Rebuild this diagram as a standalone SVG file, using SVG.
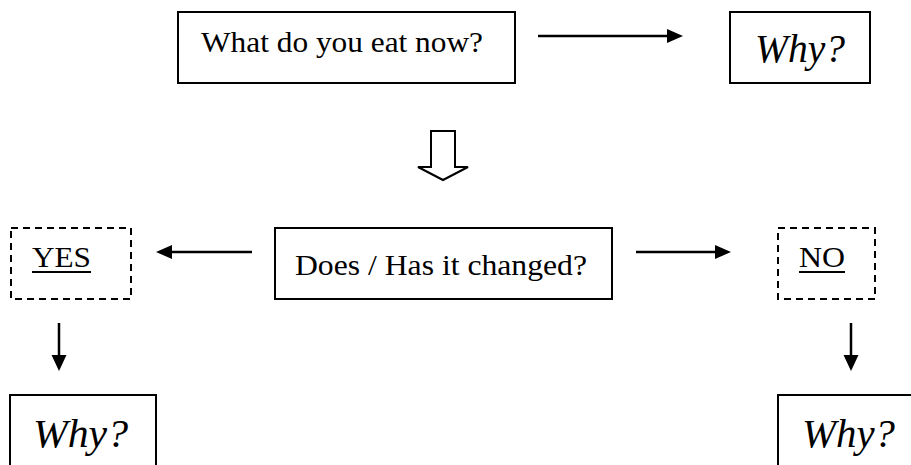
<svg xmlns="http://www.w3.org/2000/svg" width="911" height="465" viewBox="0 0 911 465">
  <style>
    .box { fill: #fff; stroke: #000; stroke-width: 2; }
    .dash { fill: #fff; stroke: #000; stroke-width: 2; stroke-dasharray: 7 5; }
    .txt { font-family: 'Liberation Serif', 'Times New Roman', serif; font-size: 30px; fill: #000; }
    .why { font-family: 'Liberation Serif', 'Times New Roman', serif; font-size: 41px; font-style: italic; fill: #000; }
    .line { stroke: #000; stroke-width: 2.5; fill: none; }
    .uline { stroke: #000; stroke-width: 2; fill: none; }
    .head { fill: #000; stroke: none; }
  </style>
  <rect width="911" height="465" fill="#fff"/>

  <g id="connectors">
    <!-- top: question to Why? -->
    <line class="line" x1="538" y1="36" x2="670" y2="36"/>
    <polygon class="head" points="683,36 667,29 667,43"/>
    <!-- hollow block arrow downwards -->
    <polygon points="431,131 455,131 455,167 468,167 443,180 418,167 431,167" fill="#fff" stroke="#000" stroke-width="2" stroke-linejoin="miter"/>
    <!-- middle: left to YES -->
    <line class="line" x1="252" y1="252" x2="168" y2="252"/>
    <polygon class="head" points="156,252 172,245 172,259"/>
    <!-- middle: right to NO -->
    <line class="line" x1="636" y1="252" x2="720" y2="252"/>
    <polygon class="head" points="731,252 715,245 715,259"/>
    <!-- down from YES -->
    <line class="line" x1="59" y1="323" x2="59" y2="358"/>
    <polygon class="head" points="59,371 51.5,355 66.5,355"/>
    <!-- down from NO -->
    <line class="line" x1="851" y1="323" x2="851" y2="358"/>
    <polygon class="head" points="851,371 843.5,355 858.5,355"/>
  </g>

  <g id="q-eat">
    <rect class="box" x="178" y="12" width="337" height="71"/>
    <text class="txt" x="201" y="52" textLength="282" lengthAdjust="spacingAndGlyphs">What do you eat now?</text>
  </g>

  <g id="why-top">
    <rect class="box" x="730" y="12" width="140" height="71"/>
    <text class="why" x="755" y="62" textLength="90" lengthAdjust="spacingAndGlyphs">Why?</text>
  </g>

  <g id="q-changed">
    <rect class="box" x="275" y="228" width="337" height="71"/>
    <text class="txt" x="295" y="275" textLength="292" lengthAdjust="spacingAndGlyphs">Does / Has it changed?</text>
  </g>

  <g id="yes">
    <rect class="dash" x="11" y="228" width="120" height="71"/>
    <text class="txt" x="32" y="267" textLength="59" lengthAdjust="spacingAndGlyphs">YES</text>
    <line class="uline" x1="32" y1="272" x2="91" y2="272"/>
  </g>

  <g id="no">
    <rect class="dash" x="778" y="228" width="97" height="71"/>
    <text class="txt" x="799" y="267" textLength="46" lengthAdjust="spacingAndGlyphs">NO</text>
    <line class="uline" x1="799" y1="272" x2="845" y2="272"/>
  </g>

  <g id="why-yes">
    <rect class="box" x="10" y="395" width="146" height="80"/>
    <text class="why" x="33" y="447" textLength="95" lengthAdjust="spacingAndGlyphs">Why?</text>
  </g>

  <g id="why-no">
    <rect class="box" x="778" y="395" width="150" height="80"/>
    <text class="why" x="802" y="447" textLength="93" lengthAdjust="spacingAndGlyphs">Why?</text>
  </g>
</svg>
